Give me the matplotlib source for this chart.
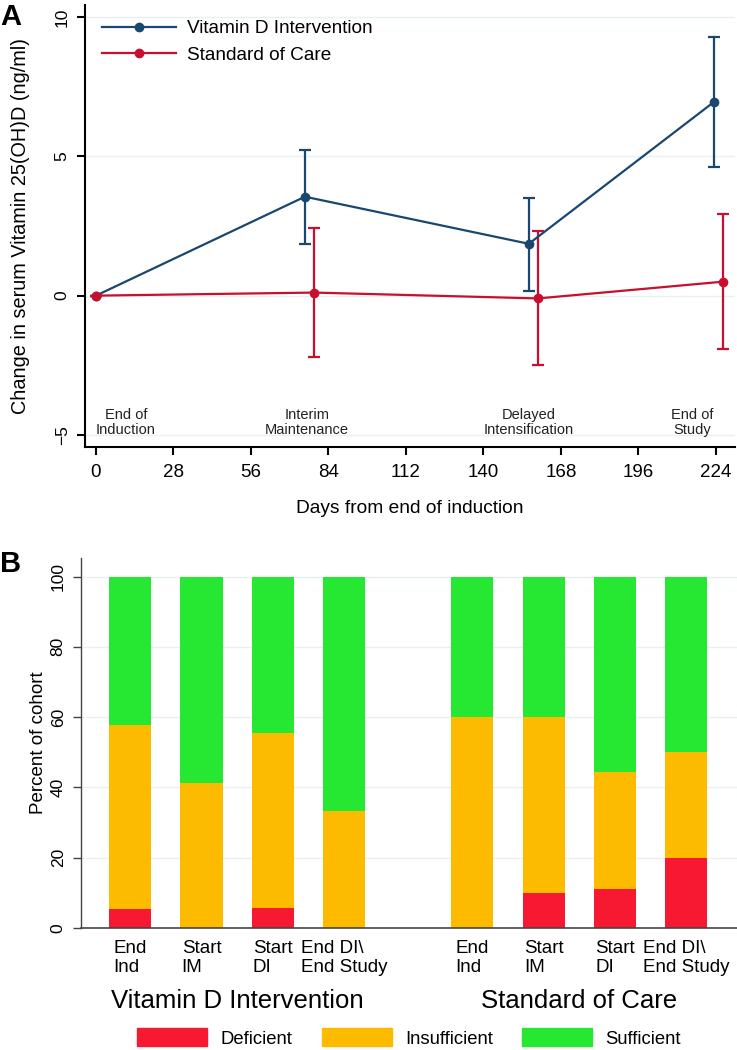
import numpy as np
import matplotlib
matplotlib.use("Agg")
import matplotlib.pyplot as plt
from matplotlib.patches import Patch
from matplotlib.lines import Line2D
from matplotlib.transforms import blended_transform_factory

plt.rcParams['font.family'] = ['Liberation Sans', 'DejaVu Sans']

# Panel A: change in serum vitamin D
vitd_days = [0, 75.5, 156.4, 223.3]
vitd_mean = [0, 3.55, 1.86, 6.95]
vitd_lo = [0, 1.85, 0.18, 4.63]
vitd_hi = [0, 5.22, 3.5, 9.28]

soc_days = [0, 78.8, 159.7, 226.5]
soc_mean = [0, 0.11, -0.1, 0.5]
soc_lo = [0, -2.19, -2.5, -1.9]
soc_hi = [0, 2.41, 2.33, 2.94]

phase_labels = ["End of\nInduction", "Interim\nMaintenance", "Delayed\nIntensification", "End of\nStudy"]
phase_x = [0, 76.2, 156.4, 223]

# Panel B: vitamin D status per timepoint (percent)
bar_labels = ["End\nInd", "Start\nIM", "Start\nDI", "End DI\\\nEnd Study"]
groups = ["Vitamin D Intervention", "Standard of Care"]
deficient = [5.3, 0, 5.6, 0, 0, 10, 11.1, 20]
insufficient = [52.6, 41.2, 50.0, 33.3, 60, 50, 33.3, 30]
sufficient = [42.1, 58.8, 44.4, 66.7, 40, 40, 55.6, 50]

navy = '#1a476f'
red = '#c8102e'
c_def = '#f71831'
c_ins = '#fdbb00'
c_suf = '#26e832'
grid_c = '#e8f1f2'

fig = plt.figure(figsize=(7.37, 10.5), dpi=100)

# ---------- Panel A ----------
ax = fig.add_axes([0.1153, 0.5743, 0.882, 0.421])
ax.set_xlim(-3.97, 230.9)
ax.set_ylim(-5.43, 10.43)
for yv in [-5, 0, 5, 10]:
    ax.axhline(yv, color=grid_c, lw=1, zorder=0)

def errs(m, lo, hi):
    m = np.array(m)
    return [m - np.array(lo), np.array(hi) - m]

ax.errorbar(vitd_days, vitd_mean, yerr=errs(vitd_mean, vitd_lo, vitd_hi), color=navy,
            marker='o', ms=6, lw=1.6, capsize=4.5, capthick=1.6, elinewidth=1.6, zorder=3)
ax.errorbar(soc_days, soc_mean, yerr=errs(soc_mean, soc_lo, soc_hi), color=red,
            marker='o', ms=6, lw=1.6, capsize=4.5, capthick=1.6, elinewidth=1.6, zorder=3)

for i, (lab, xp) in enumerate(zip(phase_labels, phase_x)):
    ha = 'left' if i == 0 else ('right' if i == 3 else 'center')
    ax.text(xp, -4.55, lab, ha=ha, va='center', fontsize=10.5, multialignment='center',
            linespacing=1.05, color='#222222')

ax.set_xticks(np.arange(0, 225, 28))
ax.set_yticks([-5, 0, 5, 10])
ax.tick_params(axis='x', labelsize=13.5, length=6, width=1.5, pad=6)
ax.tick_params(axis='y', labelsize=12.5, length=6, width=1.5, pad=5)
for t in ax.get_yticklabels():
    t.set_rotation(90)
    t.set_va('center')
ax.spines['top'].set_visible(False)
ax.spines['right'].set_visible(False)
ax.spines['left'].set_linewidth(1.5)
ax.spines['bottom'].set_linewidth(1.5)
ax.set_xlabel("Days from end of induction", fontsize=13.8, labelpad=14)
ax.set_ylabel("Change in serum Vitamin 25(OH)D (ng/ml)", fontsize=14.3)
ax.yaxis.set_label_coords(-0.085, 0.5)

leg_handles = [Line2D([], [], color=navy, marker='o', ms=6, lw=1.6),
               Line2D([], [], color=red, marker='o', ms=6, lw=1.6)]
ax.legend(leg_handles, ["Vitamin D Intervention", "Standard of Care"], loc='upper left',
          bbox_to_anchor=(0.0, 1.005), frameon=False, fontsize=13.7,
          handlelength=3.9, handletextpad=0.55, labelspacing=0.5)
fig.text(0.0, 0.997, "A", fontsize=21, fontweight='bold', va='top')

# ---------- Panel B ----------
bx = fig.add_axes([0.1099, 0.1162, 0.89, 0.3524])
pos = np.array([0, 1, 2, 3, 4.8, 5.8, 6.8, 7.8])
bx.set_xlim(-0.69, 8.51)
bx.set_ylim(0, 105.3)
for yv in [20, 40, 60, 80, 100]:
    bx.axhline(yv, color=grid_c, lw=1, zorder=0)
d = np.array(deficient)
ins = np.array(insufficient)
s = np.array(sufficient)
bx.bar(pos, d, width=0.59, color=c_def, zorder=2)
bx.bar(pos, ins, width=0.59, bottom=d, color=c_ins, zorder=2)
bx.bar(pos, s, width=0.59, bottom=d + ins, color=c_suf, zorder=2)

bx.set_xticks(pos)
bx.set_xticklabels(bar_labels * 2, fontsize=13.5, multialignment='left', linespacing=1.1)
bx.tick_params(axis='x', length=0, pad=9)
bx.set_yticks([0, 20, 40, 60, 80, 100])
bx.tick_params(axis='y', labelsize=12.5, length=6, width=1, pad=5, color='#444444')
for t in bx.get_yticklabels():
    t.set_rotation(90)
    t.set_va('center')
bx.spines['top'].set_visible(False)
bx.spines['right'].set_visible(False)
bx.spines['left'].set_color('#444444')
bx.spines['bottom'].set_color('#444444')
bx.spines['left'].set_linewidth(1)
bx.spines['bottom'].set_linewidth(1.2)
bx.set_ylabel("Percent of cohort", fontsize=13.5)
bx.yaxis.set_label_coords(-0.052, 0.5)

tr = blended_transform_factory(bx.transData, fig.transFigure)
bx.text(1.5, 1 - 1001 / 1050, groups[0], transform=tr, ha='center', va='center', fontsize=18.5)
bx.text(6.3, 1 - 1001 / 1050, groups[1], transform=tr, ha='center', va='center', fontsize=18.5)

handles = [Patch(color=c_def), Patch(color=c_ins), Patch(color=c_suf)]
fig.legend(handles, ["Deficient", "Insufficient", "Sufficient"], loc='center',
           bbox_to_anchor=(0.555, 1 - 1038 / 1050), ncol=3, frameon=False,
           fontsize=13.3, handlelength=3.8, handleheight=1.1,
           handletextpad=0.7, columnspacing=1.6)
fig.text(0.0, 1 - 550 / 1050, "B", fontsize=21, fontweight='bold', va='top')

fig.savefig("out.png", dpi=100)
